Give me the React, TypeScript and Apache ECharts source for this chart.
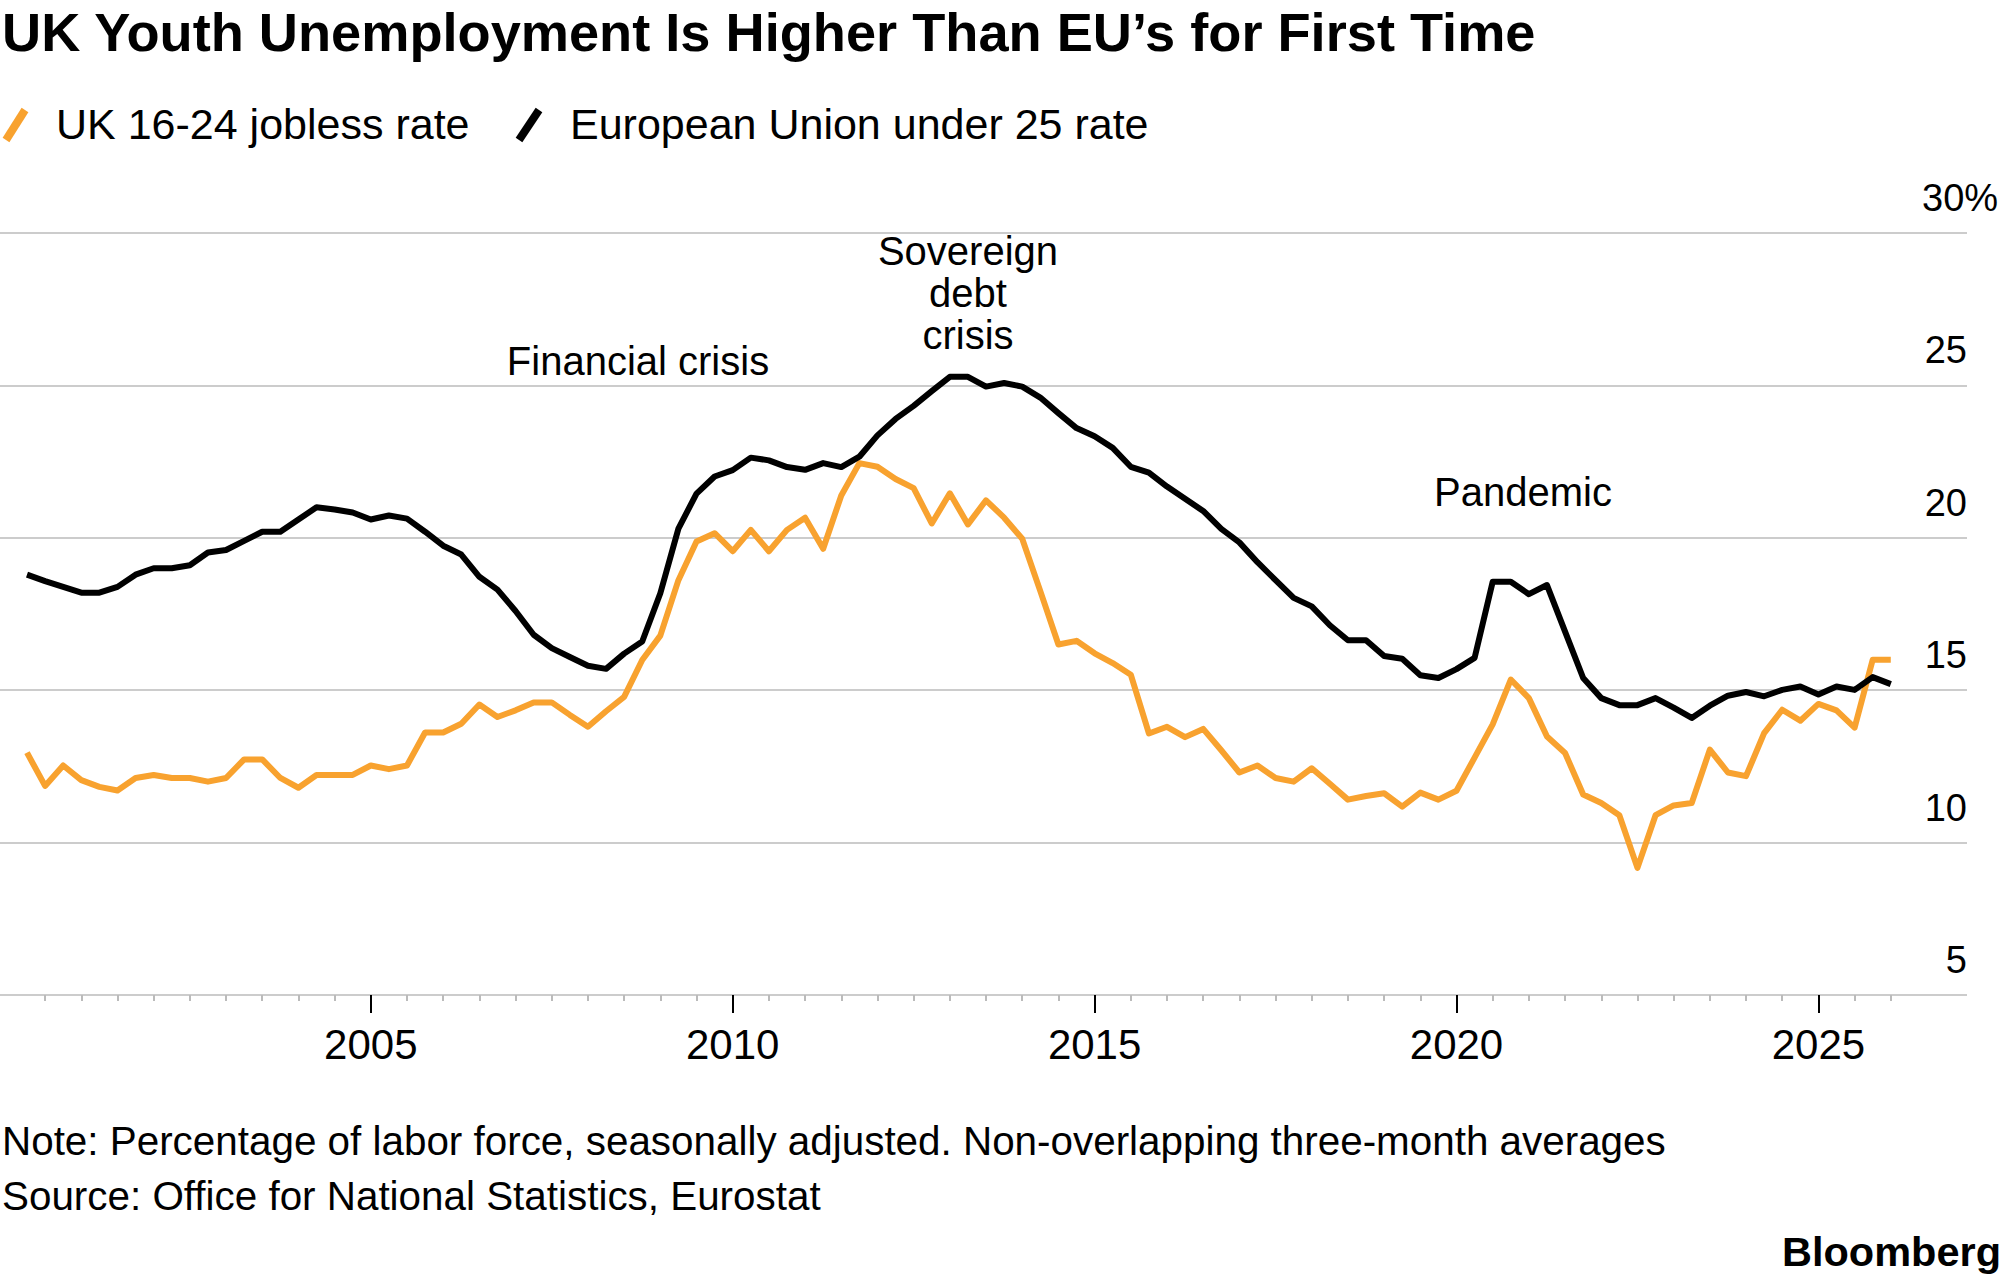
import React, { useEffect, useRef } from "react";
import * as echarts from "echarts";

// UK 16-24 jobless rate (%), quarterly, from Q1 2000
const ukRate = [
  12.95, 11.86, 12.53, 12.05, 11.83, 11.71, 12.12, 12.22, 12.12, 12.12,
  12.0, 12.12, 12.73, 12.73, 12.12, 11.8, 12.22, 12.22, 12.22, 12.53,
  12.41, 12.53, 13.61, 13.61, 13.9, 14.53, 14.12, 14.34, 14.6, 14.6,
  14.19, 13.8, 14.31, 14.78, 15.99, 16.79, 18.61, 19.88, 20.15, 19.56,
  20.26, 19.56, 20.26, 20.66, 19.64, 21.39, 22.45, 22.33, 21.93, 21.63,
  20.47, 21.46, 20.44, 21.23, 20.66, 19.97, 18.25, 16.5, 16.62, 16.21,
  15.89, 15.51, 13.58, 13.8, 13.46, 13.73, 13.03, 12.3, 12.53, 12.12,
  12.0, 12.44, 11.93, 11.41, 11.53, 11.62, 11.18, 11.64, 11.41, 11.7,
  12.79, 13.88, 15.35, 14.74, 13.48, 12.94, 11.58, 11.3, 10.9, 9.17,
  10.9, 11.22, 11.3, 13.05, 12.3, 12.18, 13.59, 14.36, 14.0, 14.55,
  14.34, 13.77, 16.0, 16.0,
];

// European Union under 25 rate (%), quarterly, from Q1 2000
const euRate = [
  18.79, 18.58, 18.39, 18.2, 18.2, 18.39, 18.79, 19.0, 19.0, 19.1,
  19.52, 19.6, 19.9, 20.2, 20.2, 20.6, 21.0, 20.93, 20.83, 20.6,
  20.73, 20.63, 20.2, 19.74, 19.45, 18.72, 18.3, 17.6, 16.82, 16.38,
  16.09, 15.8, 15.7, 16.2, 16.6, 18.18, 20.3, 21.45, 22.01, 22.22,
  22.63, 22.54, 22.32, 22.23, 22.45, 22.32, 22.66, 23.36, 23.9, 24.33,
  24.81, 25.28, 25.28, 24.96, 25.08, 24.96, 24.6, 24.09, 23.6, 23.33,
  22.95, 22.33, 22.14, 21.68, 21.28, 20.88, 20.29, 19.85, 19.2, 18.61,
  18.03, 17.75, 17.13, 16.64, 16.64, 16.12, 16.03, 15.49, 15.4, 15.69,
  16.06, 18.56, 18.56, 18.15, 18.45, 16.92, 15.4, 14.74, 14.51, 14.51,
  14.74, 14.43, 14.09, 14.49, 14.82, 14.94, 14.8, 15.01, 15.12, 14.86,
  15.12, 15.01, 15.43, 15.2,
];

// Quarter end positions in fractional years (Mar 2000, Jun 2000, ...)
const firstQuarter = 2000.25;
const quarterStep = 0.25;
const quarterYears = ukRate.map((_, i) => firstQuarter + i * quarterStep);

const yTicks = [5, 10, 15, 20, 25, 30];
const xYearLabels = [2005, 2010, 2015, 2020, 2025];

const seriesNames = ["UK 16-24 jobless rate", "European Union under 25 rate"];
const annotations = [
  { text: "Financial crisis", x: 638, y: 361 },
  { text: "Sovereign", x: 968, y: 251 },
  { text: "debt", x: 968, y: 293 },
  { text: "crisis", x: 968, y: 335 },
  { text: "Pandemic", x: 1523, y: 492 },
];

const TITLE = "UK Youth Unemployment Is Higher Than EU’s for First Time";
const NOTE = "Note: Percentage of labor force, seasonally adjusted. Non-overlapping three-month averages";
const SOURCE = "Source: Office for National Statistics, Eurostat";

const ORANGE = "#F8A22F";
const BLACK = "#000000";
const FONT = "'Liberation Sans', Arial, Helvetica, sans-serif";

function txt(text: string, x: number, y: number, size: number, opts: any = {}) {
  return {
    type: "text",
    x,
    y,
    silent: true,
    style: {
      text,
      fill: opts.fill || "#000",
      fontSize: size,
      fontWeight: opts.bold ? "bold" : "normal",
      fontFamily: FONT,
      textAlign: opts.align || "left",
      align: opts.align || "left",
      textVerticalAlign: "middle",
      verticalAlign: "middle",
    },
  };
}

export default function App() {
  const ref = useRef<HTMLDivElement>(null);

  useEffect(() => {
    if (!ref.current) return;
    const chart = echarts.init(ref.current, undefined, { renderer: "svg" });

    const W = 2005;
    const plotTop = 233;
    const plotBottom = 1278 - 995;
    const x2005 = 370.8;
    const perYear = 72.38;
    const xAt = (yr: number) => x2005 + (yr - 2005) * perYear;

    const graphics: any[] = [
      txt(TITLE, 2, 32, 54.2, { bold: true }),
      {
        type: "line",
        silent: true,
        shape: { x1: 6, y1: 140, x2: 25, y2: 110 },
        style: { stroke: ORANGE, lineWidth: 8 },
      },
      txt(seriesNames[0], 56, 124, 43),
      {
        type: "line",
        silent: true,
        shape: { x1: 519, y1: 140, x2: 539, y2: 110 },
        style: { stroke: BLACK, lineWidth: 8 },
      },
      txt(seriesNames[1], 570, 124, 43),
      ...annotations.map((a) => txt(a.text, a.x, a.y, 40, { align: "center" })),
      txt("30%", 1922, 198, 38),
      txt(NOTE, 2, 1141, 40.4),
      txt(SOURCE, 2, 1196, 40.4),
      txt("Bloomberg", 2001, 1251, 41.5, { bold: true, align: "right" }),
    ];

    const option: any = {
      animation: false,
      backgroundColor: "#ffffff",
      textStyle: { fontFamily: FONT },
      grid: [
        // gridlines + y labels
        { left: 0, right: 38, top: plotTop, bottom: plotBottom },
        // half-year minor ticks
        { left: xAt(2000.5), right: W - xAt(2026), top: plotTop, bottom: plotBottom },
        // 5-year major ticks and labels
        { left: xAt(2005), right: W - xAt(2025), top: plotTop, bottom: plotBottom },
        // data
        { left: xAt(2000), right: W - xAt(2026.5), top: plotTop, bottom: plotBottom },
      ],
      xAxis: [
        { gridIndex: 0, type: "value", min: 0, max: 1, show: false },
        {
          gridIndex: 1,
          type: "value",
          min: 2000.5,
          max: 2026,
          interval: 0.5,
          axisLine: { show: false },
          axisTick: { show: true, length: 6, lineStyle: { color: "#bbbbbb", width: 2 } },
          axisLabel: { show: false },
          splitLine: { show: false },
        },
        {
          gridIndex: 2,
          type: "value",
          min: xYearLabels[0],
          max: xYearLabels[xYearLabels.length - 1],
          interval: 5,
          axisLine: { show: false },
          axisTick: { show: true, length: 18, lineStyle: { color: "#000000", width: 2 } },
          axisLabel: {
            show: true,
            margin: 28,
            fontSize: 42,
            color: "#000",
            fontFamily: FONT,
            formatter: (v: number) => String(v),
          },
          splitLine: { show: false },
        },
        { gridIndex: 3, type: "value", min: 2000, max: 2026.5, show: false },
      ],
      yAxis: [
        {
          gridIndex: 0,
          type: "value",
          position: "right",
          min: yTicks[0],
          max: yTicks[yTicks.length - 1],
          interval: 5,
          axisLine: { show: false },
          axisTick: { show: false },
          splitLine: { show: true, lineStyle: { color: "#cccccc", width: 2 } },
          axisLabel: {
            inside: true,
            margin: 0,
            fontSize: 38,
            color: "#000",
            fontFamily: FONT,
            verticalAlign: "bottom",
            lineHeight: 38,
            padding: [0, 0, 16, 0],
            formatter: (v: number) => (v === 30 ? "" : String(v)),
          },
        },
        { gridIndex: 1, type: "value", min: 5, max: 30, show: false },
        { gridIndex: 2, type: "value", min: 5, max: 30, show: false },
        { gridIndex: 3, type: "value", min: 5, max: 30, show: false },
      ],
      series: [
        {
          name: seriesNames[0],
          type: "line",
          xAxisIndex: 3,
          yAxisIndex: 3,
          showSymbol: false,
          symbol: "none",
          data: ukRate.map((v, i) => [quarterYears[i], v]),
          lineStyle: { color: ORANGE, width: 6, join: "round" },
          z: 3,
        },
        {
          name: seriesNames[1],
          type: "line",
          xAxisIndex: 3,
          yAxisIndex: 3,
          showSymbol: false,
          symbol: "none",
          data: euRate.map((v, i) => [quarterYears[i], v]),
          lineStyle: { color: BLACK, width: 6, join: "round" },
          z: 4,
        },
      ],
      graphic: graphics,
    };

    chart.setOption(option);
    return () => chart.dispose();
  }, []);

  return (
    <div
      ref={ref}
      style={{ position: "absolute", left: 0, top: 0, width: 2005, height: 1278, background: "#fff" }}
    />
  );
}
